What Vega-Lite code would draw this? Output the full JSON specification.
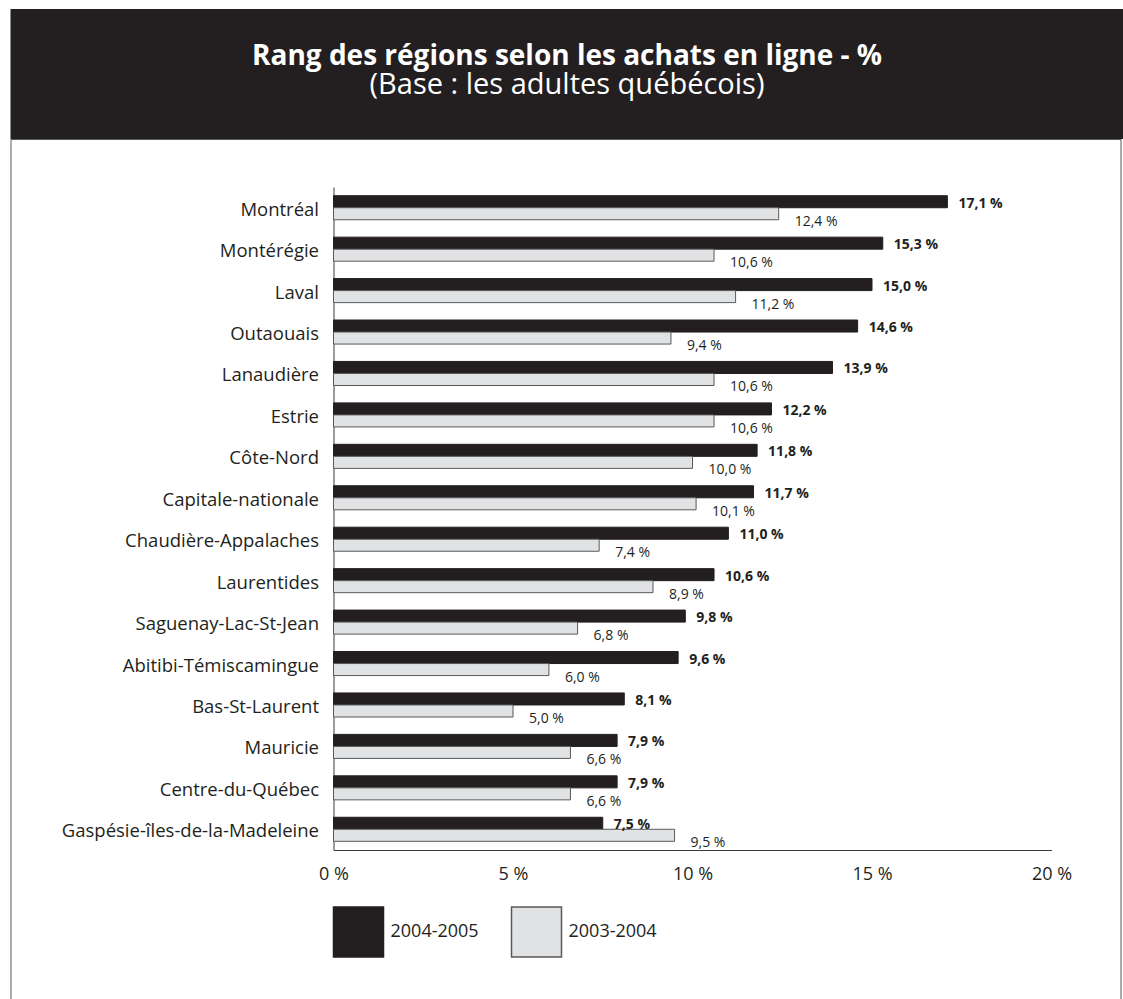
{
  "$schema": "https://vega.github.io/schema/vega-lite/v6.json",
  "padding": {"left": 9.5, "top": 9, "right": 0, "bottom": 0},
  "background": "white",
  "spacing": 0,
  "bounds": "flush",
  "config": {
    "font": "Open Sans",
    "locale": {"number": {"decimal": ",", "thousands": " ", "grouping": [3], "currency": ["", " %"]}},
    "axis": {"grid": false, "ticks": false, "labelFont": "Open Sans", "labelColor": "#231f20", "domainColor": "#3a3a3a", "title": null}
  },
  "vconcat": [
    {
      "width": 1113,
      "height": 130,
      "view": {"fill": "#231f20", "stroke": null},
      "title": {
        "text": "Rang des régions selon les achats en ligne - %",
        "subtitle": "(Base : les adultes québécois)",
        "orient": "top",
        "anchor": "middle",
        "offset": -91,
        "color": "white",
        "subtitleColor": "white",
        "font": "Open Sans",
        "subtitleFont": "Open Sans",
        "fontSize": 28,
        "subtitleFontSize": 29,
        "fontWeight": "bold",
        "subtitleFontWeight": "normal",
        "subtitlePadding": 0
      },
      "data": {"values": [{"t": ""}]},
      "mark": {"type": "text"},
      "encoding": {"text": {"field": "t"}}
    },
    {
      "width": 1110,
      "height": 861,
      "view": {"stroke": "#58595b", "strokeWidth": 1},
      "data": {"values": [
        {"region": "Montréal", "periode": "2004-2005", "v": 17.1},
        {"region": "Montréal", "periode": "2003-2004", "v": 12.4},
        {"region": "Montérégie", "periode": "2004-2005", "v": 15.3},
        {"region": "Montérégie", "periode": "2003-2004", "v": 10.6},
        {"region": "Laval", "periode": "2004-2005", "v": 15.0},
        {"region": "Laval", "periode": "2003-2004", "v": 11.2},
        {"region": "Outaouais", "periode": "2004-2005", "v": 14.6},
        {"region": "Outaouais", "periode": "2003-2004", "v": 9.4},
        {"region": "Lanaudière", "periode": "2004-2005", "v": 13.9},
        {"region": "Lanaudière", "periode": "2003-2004", "v": 10.6},
        {"region": "Estrie", "periode": "2004-2005", "v": 12.2},
        {"region": "Estrie", "periode": "2003-2004", "v": 10.6},
        {"region": "Côte-Nord", "periode": "2004-2005", "v": 11.8},
        {"region": "Côte-Nord", "periode": "2003-2004", "v": 10.0},
        {"region": "Capitale-nationale", "periode": "2004-2005", "v": 11.7},
        {"region": "Capitale-nationale", "periode": "2003-2004", "v": 10.1},
        {"region": "Chaudière-Appalaches", "periode": "2004-2005", "v": 11.0},
        {"region": "Chaudière-Appalaches", "periode": "2003-2004", "v": 7.4},
        {"region": "Laurentides", "periode": "2004-2005", "v": 10.6},
        {"region": "Laurentides", "periode": "2003-2004", "v": 8.9},
        {"region": "Saguenay-Lac-St-Jean", "periode": "2004-2005", "v": 9.8},
        {"region": "Saguenay-Lac-St-Jean", "periode": "2003-2004", "v": 6.8},
        {"region": "Abitibi-Témiscamingue", "periode": "2004-2005", "v": 9.6},
        {"region": "Abitibi-Témiscamingue", "periode": "2003-2004", "v": 6.0},
        {"region": "Bas-St-Laurent", "periode": "2004-2005", "v": 8.1},
        {"region": "Bas-St-Laurent", "periode": "2003-2004", "v": 5.0},
        {"region": "Mauricie", "periode": "2004-2005", "v": 7.9},
        {"region": "Mauricie", "periode": "2003-2004", "v": 6.6},
        {"region": "Centre-du-Québec", "periode": "2004-2005", "v": 7.9},
        {"region": "Centre-du-Québec", "periode": "2003-2004", "v": 6.6},
        {"region": "Gaspésie-îles-de-la-Madeleine", "periode": "2004-2005", "v": 7.5},
        {"region": "Gaspésie-îles-de-la-Madeleine", "periode": "2003-2004", "v": 9.5}
      ]},
      "encoding": {
        "y": {
          "field": "region", "type": "nominal", "sort": null,
          "scale": {"type": "band", "range": [48, 711], "paddingInner": 0.42, "paddingOuter": 0.21},
          "axis": {"orient": "left", "offset": -323, "labelPadding": 15, "labelFontSize": 18.5, "labelOffset": 2, "labelLimit": 400, "domain": true, "domainWidth": 1}
        },
        "x": {
          "field": "v", "type": "quantitative",
          "scale": {"domain": [0, 20], "range": [323, 1041], "nice": false, "zero": true},
          "axis": {"orient": "bottom", "offset": -150, "values": [0, 5, 10, 15, 20], "format": "$.0f", "labelFontSize": 18, "labelPadding": 15, "labelFlush": false, "domain": true}
        },
        "yOffset": {"field": "periode", "type": "nominal", "scale": {"domain": ["2004-2005", "2003-2004"]}}
      },
      "layer": [
        {
          "mark": {"type": "bar", "strokeWidth": 1, "clip": false},
          "encoding": {
            "color": {
              "field": "periode", "type": "nominal",
              "scale": {"domain": ["2004-2005", "2003-2004"], "range": ["#231f20", "#e1e2e3"]},
              "legend": {
                "orient": "none", "legendX": 322, "legendY": 897, "direction": "horizontal",
                "title": null, "symbolType": "square", "symbolSize": 2500, "symbolStrokeWidth": 1.5,
                "labelFontSize": 18, "labelColor": "#231f20", "labelOffset": 6, "columnPadding": 29, "padding": 0
              }
            },
            "stroke": {
              "field": "periode", "type": "nominal",
              "scale": {"domain": ["2004-2005", "2003-2004"], "range": ["#231f20", "#58595b"]},
              "legend": {
                "orient": "none", "legendX": 322, "legendY": 897, "direction": "horizontal",
                "title": null, "symbolType": "square", "symbolSize": 2500, "symbolStrokeWidth": 1.5,
                "labelFontSize": 18, "labelColor": "#231f20", "labelOffset": 6, "columnPadding": 29, "padding": 0
              }
            }
          }
        },
        {
          "transform": [{"filter": "datum.periode == '2004-2005'"}],
          "mark": {"type": "text", "align": "left", "baseline": "middle", "dx": 11, "dy": 2, "fontSize": 14, "fontWeight": "bold", "color": "#231f20"},
          "encoding": {"text": {"field": "v", "type": "quantitative", "format": "$.1f"}}
        },
        {
          "transform": [{"filter": "datum.periode == '2003-2004'"}],
          "mark": {"type": "text", "align": "left", "baseline": "middle", "dx": 16, "dy": 8, "fontSize": 14, "color": "#231f20"},
          "encoding": {"text": {"field": "v", "type": "quantitative", "format": "$.1f"}}
        }
      ]
    }
  ]
}
